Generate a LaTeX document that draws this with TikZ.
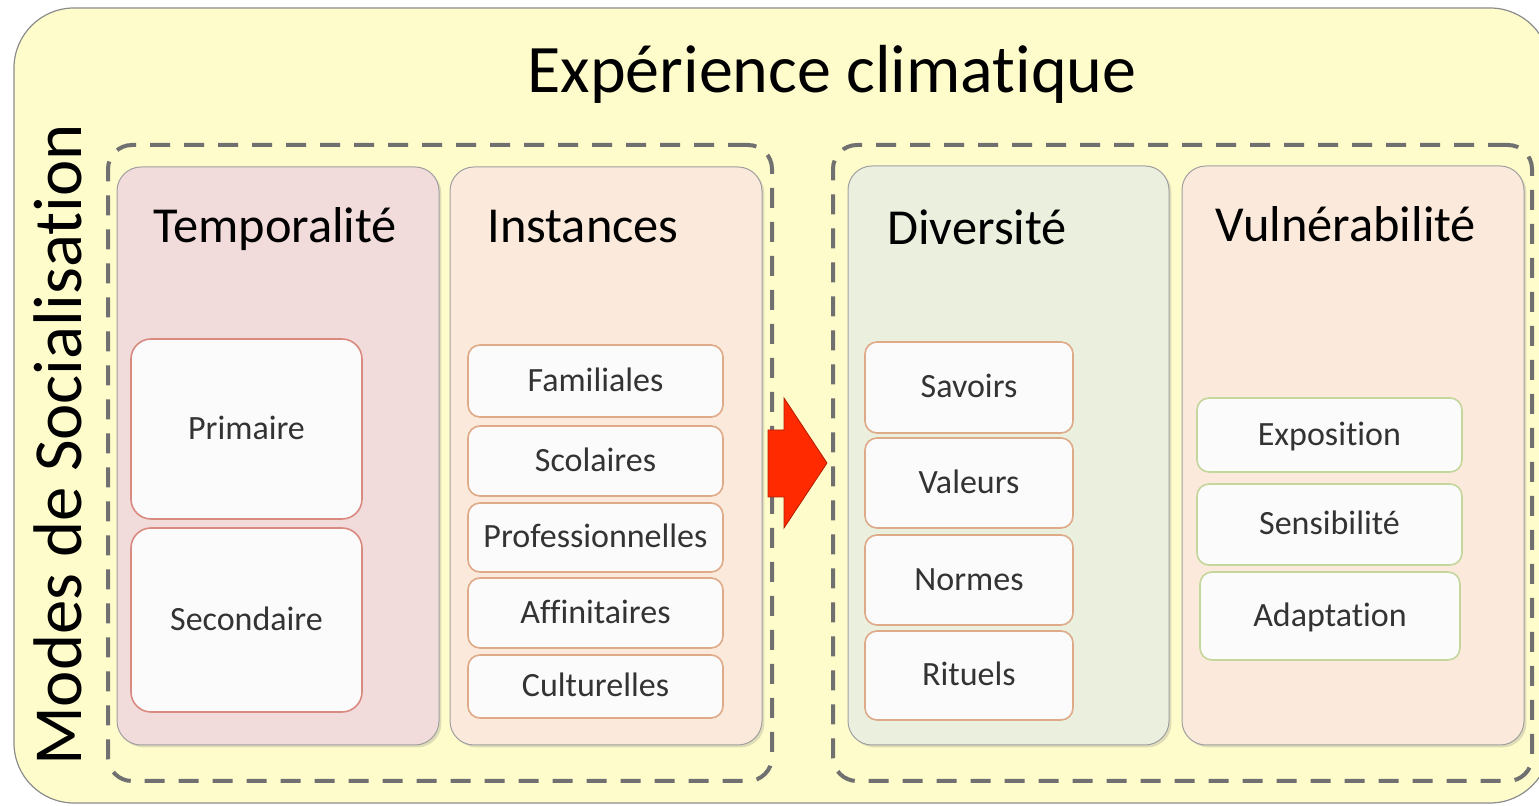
\documentclass[tikz,border=0pt]{standalone}
\usepackage{fontspec}
\setmainfont{Carlito}[Ligatures={NoCommon}]
\usetikzlibrary{fit,shadows}
\definecolor{outerfill}{HTML}{FFFCCC}
\definecolor{outerline}{HTML}{8C8C8C}
\definecolor{dashcol}{HTML}{707070}
\definecolor{pinkfill}{HTML}{F2DCDB}
\definecolor{peachfill}{HTML}{FBEADB}
\definecolor{greenfill}{HTML}{EBF0DE}
\definecolor{panelline}{HTML}{A0A0A0}
\definecolor{redline}{HTML}{D98A80}
\definecolor{orangeline}{HTML}{DEAA88}
\definecolor{greenline}{HTML}{C3D69B}
\definecolor{subfill}{HTML}{FCFBFB}
\definecolor{subtext}{HTML}{333333}
\definecolor{arrowred}{HTML}{FF2A00}
\tikzset{
  outerbox/.style={draw=outerline, line width=0.6pt, fill=outerfill, rounded corners=30pt, inner sep=0pt},
  dashbox/.style={draw=dashcol, line width=2pt, dash pattern=on 10pt off 7pt, rounded corners=12pt, inner sep=0pt},
  panel/.style={draw=panelline, line width=0.5pt, rounded corners=12pt, inner sep=0pt,
    drop shadow={shadow xshift=1.2pt, shadow yshift=-1.2pt, opacity=0.25}},
  subtextstyle/.style={text=subtext, font=\fontsize{17}{20}\selectfont, text height=0.75em, text depth=0.2em, inner sep=0pt, yshift=-2.5pt},
  subbox/.style={draw=#1, line width=0.8pt, fill=subfill, rounded corners=6pt, inner sep=0pt},
  bigsub/.style={subbox=#1, rounded corners=10pt},
  header/.style={anchor=base, font=\fontsize{25.2}{30}\selectfont, inner sep=0pt},
}
\begin{document}
\begin{tikzpicture}[x=0.5pt,y=-0.5pt]
\useasboundingbox (0,0) rectangle (1539,806);
\node[outerbox, fit={(14,8)(1550,803)}] (outer) {};
\node[anchor=base, inner sep=0pt, font=\fontsize{34}{40}\selectfont] (title) at (832,93) {Expérience climatique};
\node[rotate=90, anchor=base, inner sep=0pt, font=\fontsize{34.4}{40}\selectfont] (modes) at (82,445) {Modes de Socialisation};
\node[dashbox, fit={(108,145)(772,781)}] (dleft) {};
\node[dashbox, fit={(833,145)(1532,781)}] (dright) {};
% panels
\node[panel, fill=pinkfill, fit={(117,167)(439,745)}] (temp) {};
\node[panel, fill=peachfill, fit={(450,167)(762,745)}] (inst) {};
\node[panel, fill=greenfill, fit={(848,166)(1169,745)}] (div) {};
\node[panel, fill=peachfill, fit={(1182,166)(1524,745)}] (vuln) {};
% headers
\node[header] (htemp) at (275,243) {Temporalité};
\node[header] (hinst) at (583,243) {Instances};
\node[header] (hdiv) at (977,245) {Diversité};
\node[header] (hvuln) at (1346,242) {Vulnérabilité};
% Temporalite
\node[bigsub=redline, fit={(131,339)(362,519)}, label={[subtextstyle]center:Primaire}] (prim) {};
\node[bigsub=redline, fit={(131,528)(362,712)}, label={[subtextstyle]center:Secondaire}] (sec) {};
% Instances
\node[subbox=orangeline, fit={(468,345)(723,417)}, label={[subtextstyle]center:Familiales}] (fam) {};
\node[subbox=orangeline, fit={(468,426)(723,496)}, label={[subtextstyle]center:Scolaires}] (sco) {};
\node[subbox=orangeline, fit={(468,503)(723,572)}, label={[subtextstyle]center:Professionnelles}] (pro) {};
\node[subbox=orangeline, fit={(468,578)(723,648)}, label={[subtextstyle]center:Affinitaires}] (aff) {};
\node[subbox=orangeline, fit={(468,655)(723,718)}, label={[subtextstyle]center:Culturelles}] (cul) {};
% Diversite
\node[subbox=orangeline, fit={(865,342)(1073,433)}, label={[subtextstyle]center:Savoirs}] (sav) {};
\node[subbox=orangeline, fit={(865,438)(1073,528)}, label={[subtextstyle]center:Valeurs}] (val) {};
\node[subbox=orangeline, fit={(865,535)(1073,625)}, label={[subtextstyle]center:Normes}] (nor) {};
\node[subbox=orangeline, fit={(865,631)(1073,720)}, label={[subtextstyle]center:Rituels}] (rit) {};
% Vulnerabilite
\node[subbox=greenline, fit={(1197,398)(1462,472)}, label={[subtextstyle]center:Exposition}] (expo) {};
\node[subbox=greenline, fit={(1197,484)(1462,565)}, label={[subtextstyle]center:Sensibilité}] (sens) {};
\node[subbox=greenline, fit={(1200,572)(1460,660)}, label={[subtextstyle]center:Adaptation}] (adap) {};
% arrow
\draw[fill=arrowred, draw=arrowred!70!black, line width=0.4pt]
  (768,430) -- (784,430) -- (784,398) -- (827,463) -- (784,528) -- (784,497) -- (768,497) -- cycle;
\end{tikzpicture}
\end{document}
